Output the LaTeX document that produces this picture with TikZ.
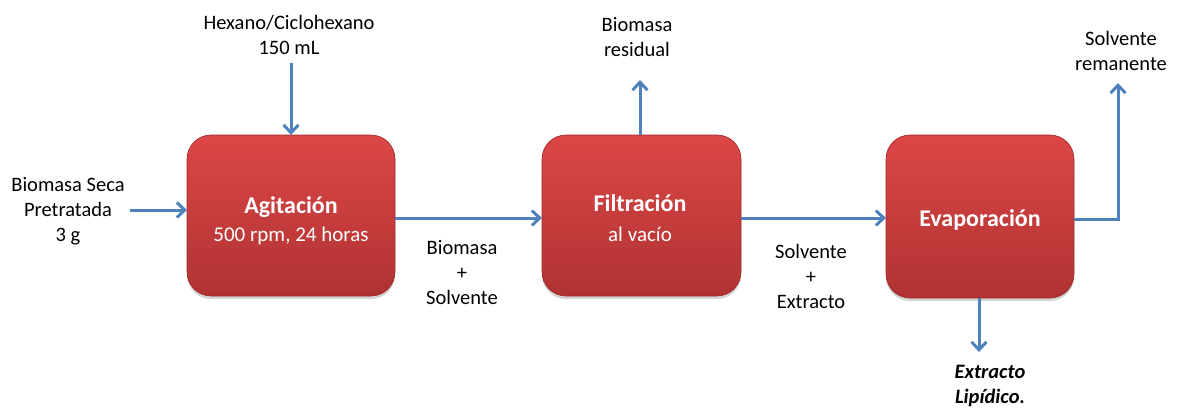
\documentclass[tikz,border=0pt]{standalone}
\usepackage{fontspec}
\setmainfont{Carlito}
\usetikzlibrary{arrows.meta,shadows}
\definecolor{arrblue}{HTML}{4F81BD}
\definecolor{boxtop}{HTML}{DC4747}
\definecolor{boxbot}{HTML}{B03232}
\definecolor{boxline}{HTML}{A02828}
\tikzset{
  procbox/.style={rounded corners=24pt, top color=boxtop, bottom color=boxbot, draw=boxline, line width=0.6pt,
    drop shadow={shadow xshift=0pt, shadow yshift=-3pt, opacity=0.35}},
  flow/.style={draw=arrblue, line width=3pt, -{Straight Barb[length=8pt,width=15pt,line width=3pt]}},
  lbl/.style={font=\fontsize{20.5}{25}\selectfont, align=center, text=black, inner sep=0pt},
  boxtxt/.style={text=white, align=center, inner sep=0pt}
}
\begin{document}
\begin{tikzpicture}[x=1pt,y=-1pt]
\useasboundingbox (0,0) rectangle (1178,410);
% boxes
\path[procbox] (187,135) rectangle (395,296);
\path[procbox] (542,135) rectangle (741,296);
\path[procbox] (886,135) rectangle (1074,298);
\coordinate (b1w) at (187,210);
\coordinate (b1n) at (291,135);
\coordinate (b1e) at (395,218);
\coordinate (b2w) at (542,218);
\coordinate (b2n) at (640,135);
\coordinate (b2e) at (741,218);
\coordinate (b3w) at (886,218);
\coordinate (b3e) at (1074,219);
\coordinate (b3s) at (979,298);
\node[boxtxt] (t1) at (291,207) {\fontsize{24}{28}\selectfont\bfseries Agitación};
\node[boxtxt] (t1b) at (291,236) {\fontsize{21}{24}\selectfont 500 rpm, 24 horas};
\node[boxtxt] (t2) at (640,203) {\fontsize{24}{28}\selectfont\bfseries Filtración};
\node[boxtxt] (t2b) at (640,234) {\fontsize{21}{24}\selectfont al vacío};
\node[boxtxt] (t3) at (980,220) {\fontsize{24}{28}\selectfont\bfseries Evaporación};
% labels
\node[lbl] (hex) at (289,35) {Hexano/Ciclohexano\\150 mL};
\node[lbl] (bio) at (68,211) {Biomasa Seca\\Pretratada\\3 g};
\node[lbl] (bs) at (462,273) {Biomasa\\+\\Solvente};
\node[lbl] (se) at (811,276) {Solvente\\+\\Extracto};
\node[lbl] (br) at (637,37) {Biomasa\\residual};
\node[lbl] (sr) at (1121,51) {Solvente\\remanente};
\node[lbl] (el) at (990,386) {\bfseries\itshape Extracto\\\bfseries\itshape Lipídico.};
% arrows
\coordinate (in1) at (130,210);
\coordinate (hexs) at (291,63);
\coordinate (bre) at (640,80);
\coordinate (sre) at (1118,83);
\coordinate (sc) at (1118,219);
\coordinate (ele) at (979,352);
\draw[flow] (in1) -- (b1w);
\draw[flow] (hexs) -- (b1n);
\draw[flow] (b1e) -- (b2w);
\draw[flow] (b2n) -- (bre);
\draw[flow] (b2e) -- (b3w);
\draw[flow] (b3e) -- (sc) -- (sre);
\draw[flow] (b3s) -- (ele);
\end{tikzpicture}
\end{document}
